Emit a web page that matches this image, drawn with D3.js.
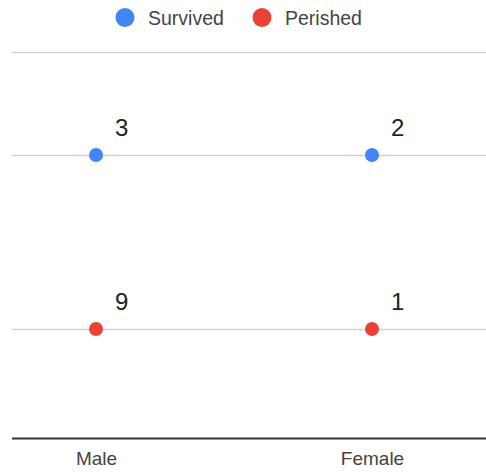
<!DOCTYPE html>
<html>
<head>
<meta charset="utf-8">
<script src="https://cdn.jsdelivr.net/npm/d3@7"></script>
<style>
  html, body { margin: 0; padding: 0; background: #fff; }
  svg { display: block; font-family: "Liberation Sans", Arial, sans-serif; }
</style>
</head>
<body>
<svg id="chart" width="486" height="473"></svg>
<script>
// Passenger outcome counts by sex
const categories = ["Male", "Female"];
const seriesNames = ["Survived", "Perished"];
const seriesColors = ["#4285F4", "#EA4335"];
// Row level each series sits on along the vertical axis
const seriesLevels = [1, 0];
const survivedCounts = [3, 2];
const perishedCounts = [9, 1];
const seriesCounts = [survivedCounts, perishedCounts];

const W = 486, H = 473;
const plot = { left: 12, right: 486, top: 52, bottom: 438 };

const svg = d3.select("#chart");

const x = d3.scalePoint()
  .domain(categories)
  .range([96, 372]);

const y = d3.scaleLinear()
  .domain([-0.626, 1.592])
  .range([plot.bottom, plot.top]);

// Horizontal gridlines: top of plot and each series row
const gridValues = [y.domain()[1]].concat(seriesLevels);
svg.append("g")
  .selectAll("line")
  .data(gridValues)
  .join("line")
  .attr("x1", plot.left)
  .attr("x2", plot.right)
  .attr("y1", d => Math.round(y(d)) + 0.5)
  .attr("y2", d => Math.round(y(d)) + 0.5)
  .attr("stroke", "#d2d2d2")
  .attr("stroke-width", 1.5);

// Baseline and category axis
const xAxis = d3.axisBottom(x).tickSize(0).tickPadding(14);
const axisG = svg.append("g")
  .attr("transform", `translate(0,${plot.bottom})`)
  .call(xAxis);
axisG.select(".domain").remove();
axisG.selectAll("text")
  .attr("font-size", 19)
  .attr("fill", "#444444")
  .attr("font-family", "Liberation Sans, Arial, sans-serif");
svg.append("line")
  .attr("x1", plot.left).attr("x2", plot.right)
  .attr("y1", plot.bottom + 0.5).attr("y2", plot.bottom + 0.5)
  .attr("stroke", "#333333")
  .attr("stroke-width", 2);

// Points and value labels
const points = [];
seriesNames.forEach((name, si) => {
  categories.forEach((cat, ci) => {
    points.push({ series: si, cat, level: seriesLevels[si], count: seriesCounts[si][ci] });
  });
});

svg.append("g")
  .selectAll("circle")
  .data(points)
  .join("circle")
  .attr("cx", d => x(d.cat))
  .attr("cy", d => y(d.level))
  .attr("r", 7)
  .attr("fill", d => seriesColors[d.series]);

svg.append("g")
  .selectAll("text")
  .data(points)
  .join("text")
  .attr("x", d => x(d.cat) + 19)
  .attr("y", d => y(d.level) - 19.5)
  .attr("font-size", 24)
  .attr("fill", "#222222")
  .text(d => d.count);

// Legend
const legendItems = [
  { name: seriesNames[0], color: seriesColors[0], cx: 125 },
  { name: seriesNames[1], color: seriesColors[1], cx: 262 }
];
const lg = svg.append("g");
lg.selectAll("circle")
  .data(legendItems)
  .join("circle")
  .attr("cx", d => d.cx)
  .attr("cy", 17.5)
  .attr("r", 9.5)
  .attr("fill", d => d.color);
lg.selectAll("text")
  .data(legendItems)
  .join("text")
  .attr("x", d => d.cx + 23)
  .attr("y", 25)
  .attr("font-size", 19.5)
  .attr("fill", "#444444")
  .text(d => d.name);
</script>
</body>
</html>
